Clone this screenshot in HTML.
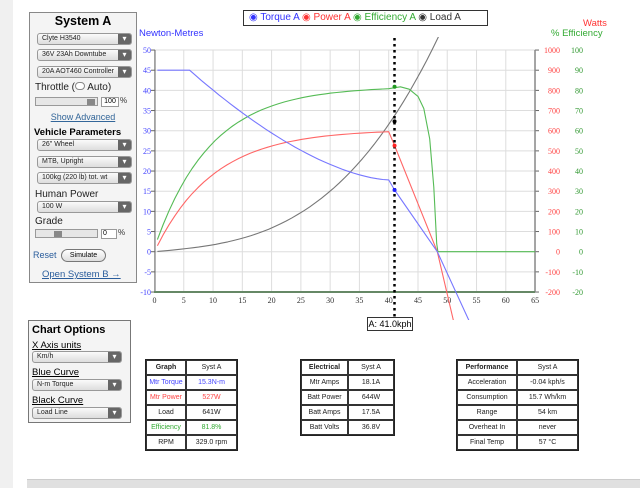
<!DOCTYPE html>
<html><head><meta charset="utf-8"><style>
*{box-sizing:border-box}
body{margin:0;width:640px;height:488px;overflow:hidden;background:#fff;font-family:"Liberation Sans",sans-serif;position:relative}
.a{position:absolute}
.sel{position:absolute;left:7px;width:95px;height:12px;border:1px solid #999;border-radius:3px;background:linear-gradient(#fafafa,#ddd);font-size:7px;line-height:10px;padding-left:4px;color:#222;white-space:nowrap;overflow:hidden}
.sel:after{content:"▾";position:absolute;right:0;top:0;width:13px;height:10px;background:#666;color:#fff;text-align:center;font-size:8px;line-height:10px}
table{position:absolute;border-collapse:separate;border-spacing:0;border:1px solid #222;font-size:7px}
td{border:1px solid #333;height:15px;text-align:center;padding:0;color:#222}
.lbl{font-size:10px;color:#222;position:absolute}
</style></head><body>
<div class="a" style="left:0;top:0;width:13px;height:488px;background:#f0f0f0"></div>
<div class="a" style="left:29px;top:12px;width:108px;height:271px;border:1px solid #888;background:#f4f4f4">
<div class="a" style="left:0;width:106px;top:1px;text-align:center;font-weight:bold;font-size:12.5px">System A</div>
<div class="sel" style="top:20px">Clyte H3540</div>
<div class="sel" style="top:36px">36V 23Ah Downtube</div>
<div class="sel" style="top:53px">20A AOT460 Controller</div>
<div class="lbl" style="left:5px;top:69px">Throttle (<span style="display:inline-block;width:10px;height:8px;border:1px solid #888;border-radius:5px;background:#fff"></span> Auto)</div>
<div class="a" style="left:5px;top:84px;width:63px;height:9px;border:1px solid #999;background:#e6e6e6"><div class="a" style="right:2px;top:1px;width:8px;height:6px;background:#888"></div></div>
<div class="a" style="left:71px;top:84px;width:18px;height:10px;border:1px solid #999;background:#fff;font-size:7px;text-align:center;line-height:8px">100</div>
<div class="a" style="left:90px;top:83px;font-size:8px;color:#333">%</div>
<div class="a" style="left:0;width:106px;top:99px;text-align:center;font-size:9px;color:#336699;text-decoration:underline">Show Advanced</div>
<div class="a" style="left:4px;top:114px;font-size:9.5px;font-weight:bold">Vehicle Parameters</div>
<div class="sel" style="top:126px">26"  Wheel</div>
<div class="sel" style="top:143px">MTB, Upright</div>
<div class="sel" style="top:159px">100kg (220 lb) tot. wt</div>
<div class="lbl" style="left:5px;top:176px">Human Power</div>
<div class="sel" style="top:188px">100 W</div>
<div class="lbl" style="left:5px;top:203px">Grade</div>
<div class="a" style="left:5px;top:216px;width:63px;height:9px;border:1px solid #999;background:#e6e6e6"><div class="a" style="left:18px;top:1px;width:8px;height:6px;background:#888"></div></div>
<div class="a" style="left:71px;top:216px;width:16px;height:10px;border:1px solid #999;background:#fff;font-size:7px;line-height:8px;padding-left:1px">0</div>
<div class="a" style="left:88px;top:215px;font-size:8px;color:#333">%</div>
<div class="a" style="left:3px;top:237px;font-size:9px;color:#2a5d9c">Reset</div>
<div class="a" style="left:31px;top:236px;width:45px;height:13px;border:1px solid #777;border-radius:7px;background:linear-gradient(#fff,#ddd);font-size:7px;text-align:center;line-height:11px">Simulate</div>
<div class="a" style="left:12px;top:256px;font-size:9.5px;color:#2a5d9c;text-decoration:underline">Open System B →</div>
</div>
<div class="a" style="left:28px;top:320px;width:103px;height:103px;border:1px solid #777;background:#f4f4f4">
<div class="a" style="left:3px;top:3px;font-weight:bold;font-size:11px">Chart Options</div>
<div class="a" style="left:3px;top:19px;font-size:9.5px;text-decoration:underline">X Axis units</div>
<div class="sel" style="left:3px;top:30px;width:90px">Km/h</div>
<div class="a" style="left:3px;top:46px;font-size:9.5px;text-decoration:underline">Blue Curve</div>
<div class="sel" style="left:3px;top:58px;width:90px">N-m Torque</div>
<div class="a" style="left:3px;top:74px;font-size:9.5px;text-decoration:underline">Black Curve</div>
<div class="sel" style="left:3px;top:86px;width:90px">Load Line</div>
</div>
<table style="left:145px;top:359px;width:93px"><tr><td style="width:40px;font-weight:bold">Graph</td><td>Syst A</td></tr>
<tr><td style="color:#44f">Mtr Torque</td><td style="color:#44f">15.3N-m</td></tr>
<tr><td style="color:#f44">Mtr Power</td><td style="color:#f44">527W</td></tr>
<tr><td>Load</td><td>641W</td></tr>
<tr><td style="color:#3a3">Efficiency</td><td style="color:#3a3">81.8%</td></tr>
<tr><td>RPM</td><td>329.0 rpm</td></tr></table>
<table style="left:300px;top:359px;width:95px"><tr><td style="width:47px;font-weight:bold">Electrical</td><td>Syst A</td></tr>
<tr><td>Mtr Amps</td><td>18.1A</td></tr><tr><td>Batt Power</td><td>644W</td></tr>
<tr><td>Batt Amps</td><td>17.5A</td></tr><tr><td>Batt Volts</td><td>36.8V</td></tr></table>
<table style="left:456px;top:359px;width:123px"><tr><td style="width:60px;font-weight:bold">Performance</td><td>Syst A</td></tr>
<tr><td>Acceleration</td><td>-0.04 kph/s</td></tr><tr><td>Consumption</td><td>15.7 Wh/km</td></tr>
<tr><td>Range</td><td>54 km</td></tr><tr><td>Overheat In</td><td>never</td></tr><tr><td>Final Temp</td><td>57 °C</td></tr></table>
<div class="a" style="left:27px;top:479px;width:613px;height:9px;background:#e0e0e0;border-top:1px solid #ccc"></div>
<svg class="a" style="left:0;top:0" width="640" height="488" id="c"></svg>
<div class="a" style="left:243px;top:10px;width:245px;height:16px;border:1px solid #333;background:#fff;font-size:10px;line-height:14px;padding-left:5px;white-space:nowrap">
<span style="color:#33f">◉ Torque A</span> <span style="color:#f33">◉ Power A</span> <span style="color:#3a3">◉ Efficiency A</span> <span style="color:#333">◉ Load A</span></div>
<div class="a" style="left:139px;top:28px;font-size:9.5px;color:#33f">Newton-Metres</div>
<div class="a" style="left:583px;top:18px;font-size:9.5px;color:#f33">Watts</div>
<div class="a" style="left:551px;top:28px;font-size:9.5px;color:#3a3">% Efficiency</div>
<div class="a" style="left:367px;top:317px;width:46px;height:14px;border:1px solid #333;background:#fff;font-size:9px;line-height:12px;text-align:center">A: 41.0kph</div>
<script>
var s='',X=function(x){return 154.5+x*5.855},Y=function(y){return 251.7-y*4.033};
for(var i=0;i<=13;i++){var x=X(i*5);s+='<line x1="'+x+'" y1="50" x2="'+x+'" y2="292" stroke="#ddd"/>';
s+='<text x="'+x+'" y="303" font-size="8" fill="#333" text-anchor="middle" font-family="Liberation Serif">'+(i*5)+'</text>';}
for(var v=-10;v<=50;v+=5){var y=Y(v);s+='<line x1="154.5" y1="'+y+'" x2="535" y2="'+y+'" stroke="#ddd"/>';
s+='<line x1="151" y1="'+y+'" x2="155" y2="'+y+'" stroke="#666"/><line x1="535" y1="'+y+'" x2="539" y2="'+y+'" stroke="#666"/>';
s+='<text x="151" y="'+(y+3)+'" font-size="8" fill="#44f" text-anchor="end" font-family="Liberation Serif">'+v+'</text>';
s+='<text x="560" y="'+(y+3)+'" font-size="8" fill="#f44" text-anchor="end" font-family="Liberation Serif">'+(v*20)+'</text><text x="583" y="'+(y+3)+'" font-size="8" fill="#393" text-anchor="end" font-family="Liberation Serif">'+(v*2)+'</text>';}
s+='<line x1="155" y1="50" x2="155" y2="292" stroke="#666"/><line x1="535" y1="50" x2="535" y2="292" stroke="#888" stroke-width="1.5"/><line x1="154" y1="292" x2="535" y2="292" stroke="#686" stroke-width="2"/>';
function P(a,c){var d='M'+X(a[0][0]).toFixed(1)+' '+Y(a[0][1]).toFixed(1);
for(var i=1;i<a.length;i++){d+='L'+X(a[i][0]).toFixed(1)+' '+Y(a[i][1]).toFixed(1)}
return '<path d="'+d+'" fill="none" stroke="'+c+'" stroke-width="1.1" stroke-linejoin="round"/>'}
function F(f,a,b,n){var r=[];for(var i=0;i<=n;i++){var x=a+(b-a)*i/n;r.push([x,f(x)])}return r}
s+='<defs><clipPath id="k"><rect x="0" y="37" width="640" height="283"/></clipPath></defs><g clip-path="url(#k)">';
var load=F(function(x){return 0.13*x+0.000412*x*x*x},0.5,49.5,49);
s+=P(load,'#777');
var eff=F(function(x){return 3+38*(1-Math.exp(-(x-0.5)/9.5))},0.5,40,40).concat([[42,40.9],[43.5,40.3],[45,38.5],[46,35.5],[47,28],[47.7,16],[48.2,2],[48.4,0],[65,0]]);
s+=P(eff,'#5b5');
var pw=F(function(x){return 1.5+28.8*(1-Math.exp(-(x-0.5)/10))},0.5,40,40).concat([[41,26.3],[48.3,0],[51.2,-18]]);
s+=P(pw,'#f66');
var tq=[[0.5,45],[6,45]].concat(F(function(x){return 17.8+27.2*Math.pow((40-x)/34,1.6)},6,40,34)).concat([[41,15.3],[48.3,0],[54,-18]]);
s+=P(tq,'#77f');
s+='</g><line x1="394.5" y1="38" x2="394.5" y2="318" stroke="#000" stroke-width="2.5" stroke-dasharray="2.5,3.5"/>';
s+='<circle cx="'+X(41)+'" cy="'+Y(32.3)+'" r="2" fill="#000"/><circle cx="'+X(41)+'" cy="'+Y(26.3)+'" r="2" fill="#f22"/><circle cx="'+X(41)+'" cy="'+Y(15.3)+'" r="2" fill="#22f"/><circle cx="'+X(41)+'" cy="'+Y(40.9)+'" r="2" fill="#292"/>';
document.getElementById('c').innerHTML=s;
</script>
</body></html>
